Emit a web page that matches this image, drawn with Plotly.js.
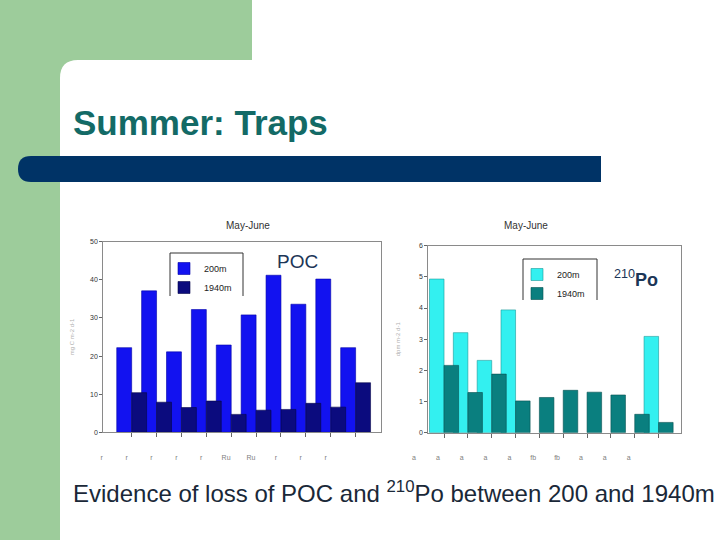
<!DOCTYPE html>
<html>
<head>
<meta charset="utf-8">
<script src="https://cdn.plot.ly/plotly-3.0.1.min.js"></script>
<style>html,body{margin:0;padding:0;background:#fff}#chart{width:720px;height:540px}</style>
</head>
<body>
<div id="chart"></div>
<script>
// ---- data ----
var categories = [1, 2, 3, 4, 5, 6, 7, 8, 9, 10];
var tickLabelsPOC = ["r", "r", "r", "r", "r", "Ru", "Ru", "r", "r", "r"];
var tickLabelsPo = ["a", "a", "a", "a", "a", "fb", "fb", "a", "a", "a"];
var seriesNames = ["200m", "1940m"];
var poc200 = [22.2, 37.1, 21.1, 32.2, 22.9, 30.8, 41.2, 33.6, 40.2, 22.2];
var poc1940 = [10.4, 7.9, 6.5, 8.2, 4.7, 5.8, 6.0, 7.6, 6.6, 13.0];
var po200 = [4.93, 3.21, 2.32, 3.94, null, null, null, null, null, 3.09];
var po1940 = [2.16, 1.29, 1.88, 1.02, 1.13, 1.36, 1.30, 1.21, 0.59, 0.33];

// ---- helpers (pixel -> paper) ----
function px(x) { return x / 720; }
function py(y) { return 1 - y / 540; }
var FONT = "Arial, 'Liberation Sans', sans-serif";

var traces = [
  {type: "bar", name: seriesNames[0], x: categories, y: poc200, xaxis: "x", yaxis: "y", legend: "legend",
   offset: -0.6, width: 0.6, marker: {color: "#1212f0", line: {color: "#0000a8", width: 0.6}}},
  {type: "bar", name: seriesNames[1], x: categories, y: poc1940, xaxis: "x", yaxis: "y", legend: "legend",
   offset: 0, width: 0.6, marker: {color: "#0b0b7e", line: {color: "#05054a", width: 0.6}}},
  {type: "bar", name: seriesNames[0], x: categories, y: po200, xaxis: "x2", yaxis: "y2", legend: "legend2",
   offset: -0.61, width: 0.61, marker: {color: "#33f0f0", line: {color: "#1a9a9a", width: 0.6}}},
  {type: "bar", name: seriesNames[1], x: categories, y: po1940, xaxis: "x2", yaxis: "y2", legend: "legend2",
   offset: 0, width: 0.61, marker: {color: "#0a7f7f", line: {color: "#055050", width: 0.6}}}
];

var axisCommon = {showline: true, mirror: true, linecolor: "#8a8a8a", linewidth: 1, showgrid: false,
  zeroline: false, ticks: "outside", tickcolor: "#666", fixedrange: true};

var layout = {
  width: 720, height: 540,
  margin: {l: 0, r: 0, t: 0, b: 0},
  paper_bgcolor: "#ffffff", plot_bgcolor: "#ffffff",
  font: {family: FONT, color: "#222"},
  barmode: "overlay",
  xaxis: Object.assign({}, axisCommon, {domain: [px(103.3), px(381)], anchor: "y", range: [-0.14, 11.02],
    tickmode: "array", tickvals: categories, ticktext: tickLabelsPOC, ticklen: 4,
    tickfont: {size: 7, color: "#808080"}, ticklabelshift: -30, ticklabelstandoff: 14}),
  yaxis: Object.assign({}, axisCommon, {domain: [py(432.3), py(241.7)], anchor: "x", range: [0, 50], dtick: 10,
    ticklen: 3, tickfont: {size: 7, color: "#333"},
    title: {text: "mg C m-2 d-1", font: {size: 6, color: "#b0b0b0"}, standoff: 15}}),
  xaxis2: Object.assign({}, axisCommon, {domain: [px(428.3), px(681)], anchor: "y2", range: [0.34, 10.94],
    tickmode: "array", tickvals: categories, ticktext: tickLabelsPo, ticklen: 4,
    tickfont: {size: 7, color: "#808080"}, ticklabelshift: -30, ticklabelstandoff: 14}),
  yaxis2: Object.assign({}, axisCommon, {domain: [py(432.7), py(245.7)], anchor: "x2", range: [0, 6], dtick: 1,
    ticklen: 3, tickfont: {size: 7, color: "#333"},
    title: {text: "dpm m-2 d-1", font: {size: 6, color: "#b0b0b0"}, standoff: 17}}),
  legend: {x: px(164), y: py(254), xanchor: "left", yanchor: "top", bgcolor: "rgba(0,0,0,0)",
    borderwidth: 0, font: {size: 9, color: "#222"}, itemclick: false, itemdoubleclick: false},
  legend2: {x: px(517), y: py(260), xanchor: "left", yanchor: "top", bgcolor: "rgba(0,0,0,0)",
    borderwidth: 0, font: {size: 9, color: "#222"}, itemclick: false, itemdoubleclick: false},
  showlegend: true,
  shapes: [
    // green slide frame with rounded inner corner
    {type: "path", xref: "paper", yref: "paper", layer: "below", line: {width: 0}, fillcolor: "#9dcc9b",
     path: "M 0 1 L " + px(252) + " 1 L " + px(252) + " " + py(60) + " L " + px(78) + " " + py(60) +
           " Q " + px(60) + " " + py(60) + " " + px(60) + " " + py(78) + " L " + px(60) + " 0 L 0 0 Z"},
    // navy rule bar
    {type: "path", xref: "paper", yref: "paper", layer: "below", line: {width: 0}, fillcolor: "#003366",
     path: "M " + px(601) + " " + py(156) + " L " + px(31) + " " + py(156) +
           " Q " + px(18) + " " + py(156) + " " + px(18) + " " + py(169) +
           " Q " + px(18) + " " + py(182) + " " + px(31) + " " + py(182) +
           " L " + px(601) + " " + py(182) + " Z"},
    // legend frames (open at bottom)
    {type: "path", xref: "paper", yref: "paper", line: {color: "#333", width: 1},
     path: "M " + px(170) + " " + py(296) + " L " + px(170) + " " + py(253) + " L " + px(243) + " " + py(253) +
           " L " + px(243) + " " + py(296)},
    {type: "path", xref: "paper", yref: "paper", line: {color: "#333", width: 1},
     path: "M " + px(523) + " " + py(300) + " L " + px(523) + " " + py(259) + " L " + px(597) + " " + py(259) +
           " L " + px(597) + " " + py(300)}
  ],
  annotations: [
    {text: "<b>Summer: Traps</b>", x: px(71), y: py(123), xref: "paper", yref: "paper", xanchor: "left",
     yanchor: "middle", showarrow: false, font: {size: 35, color: "#136a66", family: FONT}},
    {text: "Evidence of loss of POC and <sup>210</sup>Po between 200 and 1940m", x: px(71), y: py(492),
     xref: "paper", yref: "paper", xanchor: "left", yanchor: "middle", showarrow: false,
     font: {size: 24, color: "#1a2838", family: FONT}},
    {text: "May-June", x: px(224), y: py(225), xref: "paper", yref: "paper", showarrow: false,
     font: {size: 10, color: "#333"}},
    {text: "May-June", x: px(550), y: py(225), xref: "paper", yref: "paper", showarrow: false,
     font: {size: 10, color: "#333"}},
    {text: "POC", x: px(297), y: py(261), xref: "paper", yref: "paper", showarrow: false,
     font: {size: 19, color: "#1c3657"}},
    {text: "<sup>210</sup><b>Po</b>", x: px(612), y: py(278), xref: "paper", yref: "paper", xanchor: "left",
     showarrow: false, font: {size: 18, color: "#1c3657"}}
  ]
};

Plotly.newPlot("chart", traces, layout, {staticPlot: true, displayModeBar: false});
</script>
</body>
</html>
